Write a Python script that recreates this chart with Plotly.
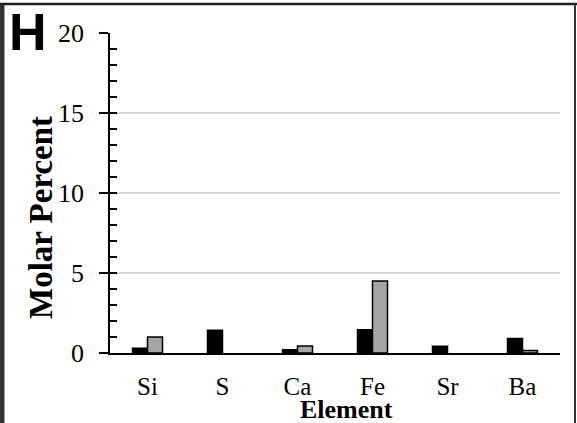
import plotly.graph_objects as go

elements = ["Si", "S", "Ca", "Fe", "Sr", "Ba"]
series_black = [0.3, 1.42, 0.2, 1.46, 0.42, 0.9]
series_gray = [1.0, 0.0, 0.44, 4.5, 0.0, 0.15]
y_ticks = [0, 5, 10, 15, 20]

W, H = 577, 423
L, R, T, B = 110, 17, 33, 70
PW, PH = W - L - R, H - T - B

def px(x):
    return (x - L) / PW

def py(y):
    return (H - B - y) / PH

def outline(vals):
    return [1.5 if v > 0 else 0 for v in vals]

fig = go.Figure()
fig.add_trace(go.Bar(x=elements, y=series_black, marker=dict(color="#000000", line=dict(color="#000000", width=outline(series_black))), showlegend=False))
fig.add_trace(go.Bar(x=elements, y=series_gray, marker=dict(color="#a6a6a6", line=dict(color="#000000", width=outline(series_gray))), showlegend=False))
# invisible trace for inside tick axis
fig.add_trace(go.Scatter(x=[elements[0]], y=[0], yaxis="y2", mode="markers", marker=dict(opacity=0), showlegend=False, hoverinfo="skip"))

font_serif = "Liberation Serif, Times New Roman, serif"

annotations = [
    dict(text="<b>Molar Percent</b>", textangle=-90, x=px(41), y=py(218), xref="paper", yref="paper",
         showarrow=False, font=dict(size=33, family=font_serif), xanchor="center", yanchor="middle"),
    dict(text="<b>Element</b>", x=px(346), y=py(409), xref="paper", yref="paper",
         showarrow=False, font=dict(size=26, family=font_serif), xanchor="center", yanchor="middle"),
    dict(text="<b>H</b>", x=px(28), y=py(32), xref="paper", yref="paper",
         showarrow=False, font=dict(size=52, family="Liberation Sans, Arial, sans-serif"), xanchor="center", yanchor="middle"),
]
# y tick labels as text placed on the y scale
for v in y_ticks:
    annotations.append(dict(text=str(v), x=px(86), y=v, xref="paper", yref="y", showarrow=False,
                            font=dict(size=26, family=font_serif), xanchor="right", yanchor="middle"))

fig.update_layout(
    width=W, height=H,
    margin=dict(l=L, r=R, t=T, b=B, autoexpand=False),
    paper_bgcolor="white", plot_bgcolor="white",
    barmode="group", bargap=0.6, bargroupgap=0,
    font=dict(family=font_serif, color="#000000", size=22),
    xaxis=dict(
        showline=True, linecolor="#000000", linewidth=2, automargin=False,
        ticks="", showgrid=False, tickfont=dict(size=25, family=font_serif),
        ticklabelstandoff=10,
    ),
    yaxis=dict(
        range=[0, 20], tickvals=y_ticks, ticks="outside", ticklen=9, tickwidth=2, tickcolor="#000000",
        showline=True, linecolor="#000000", linewidth=2, automargin=False, showticklabels=False,
        showgrid=True, gridcolor="#d9d9d9", gridwidth=1.5, zeroline=False,
    ),
    yaxis2=dict(
        range=[0, 20], overlaying="y", side="left", dtick=1, tick0=0, ticks="inside", ticklen=7,
        tickwidth=2, tickcolor="#000000", showticklabels=False, showgrid=False, zeroline=False, showline=False,
        automargin=False,
    ),
    annotations=annotations,
    shapes=[
        dict(type="rect", xref="paper", yref="paper", x0=px(0), x1=px(4.5), y0=py(423), y1=py(3),
             fillcolor="#333333", line=dict(width=0), layer="above"),
        dict(type="line", xref="paper", yref="paper", x0=px(0), x1=px(577), y0=py(4), y1=py(4),
             line=dict(color="#222222", width=2.5), layer="above"),
        dict(type="line", xref="paper", yref="paper", x0=px(575), x1=px(575), y0=py(4), y1=py(423),
             line=dict(color="#333333", width=2), layer="above"),
        dict(type="line", xref="paper", yref="paper", x0=px(101), x1=px(110), y0=0, y1=0,
             line=dict(color="#000000", width=2), layer="above"),
    ],
)

fig.write_html("out.html", config={"displayModeBar": False}, post_script="document.body.style.margin='0';")
